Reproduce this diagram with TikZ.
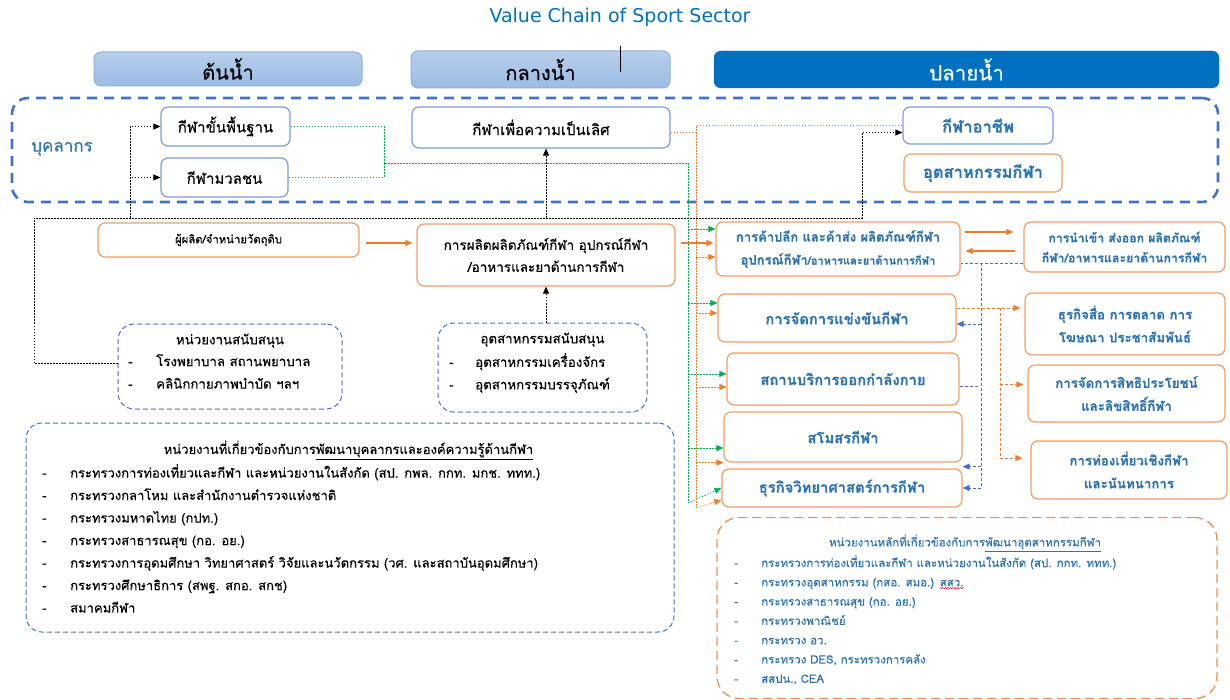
\documentclass[tikz,border=0pt]{standalone}
\usepackage{fontspec}
\usepackage{tikz}
\usetikzlibrary{arrows.meta}
\usetikzlibrary{positioning}
\usetikzlibrary{decorations.pathmorphing}
\setmainfont[Script=Thai, FakeBold=0.35]{Loma}
\newfontfamily\titlefont{DejaVu Sans}
\definecolor{titleblue}{HTML}{0070C0}
\definecolor{frameblue}{HTML}{4472C4}
\definecolor{rimblue}{HTML}{7D9CD9}
\definecolor{txtblue}{HTML}{2E74B5}
\definecolor{headtop}{HTML}{B8CEEC}
\definecolor{headbot}{HTML}{9BBCE4}
\definecolor{headrim}{HTML}{8EB0E0}
\definecolor{orng}{HTML}{ED7D31}
\definecolor{grn}{HTML}{00B050}
% red spell-check wave under a word
\newcommand{\spellwave}[1]{\tikz[baseline=(w.base)]{\node[inner sep=0pt] (w) {#1};
  \draw[red, line width=0.5pt, decorate, decoration={snake, amplitude=0.6pt, segment length=2.5pt}]
  ([yshift=-1.5pt]w.south west) -- ([yshift=-1.5pt]w.south east);}}
\tikzset{
  base/.style={draw, rounded corners=7pt, align=center, inner sep=2pt, font={\fontsize{15}{22}\selectfont}},
  tier_light/.style={base, draw=headrim, line width=1pt, top color=headtop, bottom color=headbot, font={\fontsize{20}{22}\selectfont}},
  tier_dark/.style={base, draw=titleblue, fill=titleblue, text=white, font={\fontsize{20.5}{22}\selectfont}},
  ath/.style={base, draw=rimblue, line width=1.2pt},
  ath_pro/.style={ath, text=txtblue, font={\fontsize{16.5}{20}\selectfont\bfseries}},
  biz/.style={base, draw=orng!75, line width=1.2pt},
  biz_blue/.style={biz, text=txtblue, font={\fontsize{14.8}{22}\selectfont\bfseries}},
  biz_pair/.style={biz_blue, font={\fontsize{13.3}{23}\selectfont\bfseries}},
  % dashed group frames
  grp_staff/.style={draw=frameblue, dash pattern=on 10pt off 7pt, line width=2.6pt, rounded corners=16pt},
  grp_blue/.style={draw=frameblue, dash pattern=on 5pt off 3pt, line width=1pt, rounded corners=16pt},
  grp_orange/.style={draw=orng!85, dash pattern=on 9pt off 5pt, line width=1.3pt, rounded corners=22pt},
  notes/.style={align=left, inner sep=0pt},
  % ----------------------------------------------------------------------------
  % Connector line styles for different parts of the diagram
  link_dark/.style={draw, black, dash pattern=on 1.5pt off 1.5pt, line width=0.7pt},
  link_green/.style={draw, grn, dash pattern=on 1.5pt off 1.5pt, line width=0.7pt},
  link_orange/.style={draw, orng, dash pattern=on 1.5pt off 1.5pt, line width=0.7pt},
  link_blue/.style={draw, frameblue, dash pattern=on 3pt off 2pt, line width=0.8pt},
  link_media/.style={draw, orng, dash pattern=on 3pt off 2pt, line width=0.8pt},
  link_solid/.style={draw, orng, line width=1.2pt}
}

\begin{document}
\begin{tikzpicture}[%
    x=1pt, y=-1pt,                        % pixel grid, y runs down
    >={Triangle[length=7pt, width=6pt]},
    ]
\useasboundingbox (0,0) rectangle (1230,700);

% -------------------------------------------------
% Title and the three stages
\node [text=titleblue, font={\titlefont\fontsize{19}{22}\selectfont}] (title) at (620,17) {Value Chain of Sport Sector};
\node [tier_light, minimum width=268pt, minimum height=34pt] (head_up) at (228,69) {ต้นน้ำ};
\node [tier_light, minimum width=259pt, minimum height=37pt] (head_mid) at (540.5,69.5) {กลางน้ำ};
\node [tier_dark, minimum width=505pt, minimum height=37pt] (head_down) at (966.5,69.5) {ปลายน้ำ};
\draw [line width=0.6pt] (620,46) -- (620,72);

% -------------------------------------------------
% Personnel band
\node [grp_staff, minimum width=1206pt, minimum height=104pt] (staff) at (615,150) {};
\node [text=txtblue, font={\fontsize{17}{18}\selectfont}] (staff_label) at (62,149) {บุคลากร};
\node [ath, minimum width=129pt, minimum height=39pt] (basic) at (225.5,126.5) {กีฬาขั้นพื้นฐาน};
\node [ath, minimum width=127pt, minimum height=39pt] (mass) at (224.5,177.5) {กีฬามวลชน};
\node [ath, minimum width=258pt, minimum height=41pt] (elite) at (541,127.5) {กีฬาเพื่อความเป็นเลิศ};
\node [ath_pro, minimum width=150pt, minimum height=37pt] (pro) at (978,125.5) {กีฬาอาชีพ};
\node [ath_pro, draw=orng!75, minimum width=158pt, minimum height=38pt] (industry) at (983,173) {อุตสาหกรรมกีฬา};

% -------------------------------------------------
% Production chain
\node [biz, font={\fontsize{11.3}{20}\selectfont}, minimum width=261pt, minimum height=34pt] (supplier) at (228.5,240) {ผู้ผลิต/จำหน่ายวัตถุดิบ};
\node [biz, font={\fontsize{13.5}{22}\selectfont}, minimum width=258pt, minimum height=62pt] (produce) at (546,255) {%
    การผลิตผลิตภัณฑ์กีฬา อุปกรณ์กีฬา\\/อาหารและยาด้านการกีฬา};
\node [biz_blue, font={\fontsize{13}{23}\selectfont\bfseries}, minimum width=244pt, minimum height=54pt] (retail) at (838,249) {%
    การค้าปลีก และค้าส่ง ผลิตภัณฑ์กีฬา\\อุปกรณ์กีฬา{\fontsize{11}{23}\selectfont/อาหารและยาด้านการกีฬา}};
\node [biz_blue, font={\fontsize{12.3}{20}\selectfont\bfseries}, minimum width=201pt, minimum height=50pt] (trade) at (1124.5,247) {%
    การนำเข้า ส่งออก ผลิตภัณฑ์\\กีฬา/อาหารและยาด้านการกีฬา};

% -------------------------------------------------
% Downstream services
\node [biz_blue, minimum width=238pt, minimum height=48pt] (compete) at (837,318) {การจัดการแข่งขันกีฬา};
\node [biz_blue, minimum width=232pt, minimum height=52pt] (fitness) at (843,379) {สถานบริการออกกำลังกาย};
\node [biz_blue, minimum width=238pt, minimum height=50pt] (club) at (843,437) {สโมสรกีฬา};
\node [biz_blue, minimum width=240pt, minimum height=38pt] (science) at (842,488) {ธุรกิจวิทยาศาสตร์การกีฬา};
\node [biz_pair, minimum width=200pt, minimum height=62pt] (media) at (1125,324) {ธุรกิจสื่อ การตลาด การ\\โฆษณา ประชาสัมพันธ์};
\node [biz_pair, minimum width=197pt, minimum height=57pt] (rights) at (1126.5,393.5) {การจัดการสิทธิประโยชน์\\และลิขสิทธิ์กีฬา};
\node [biz_pair, minimum width=196pt, minimum height=58pt] (tour) at (1129,470) {การท่องเที่ยวเชิงกีฬา\\และนันทนาการ};

% -------------------------------------------------
% Supporting groups
\node [grp_blue, minimum width=224pt, minimum height=85pt] (support_org) at (230,366.5) {};
\node [notes, font={\fontsize{13.3}{22.5}\selectfont}, below=10pt of support_org.north] (support_org_t) {หน่วยงานสนับสนุน};
\node [notes, font={\fontsize{13.3}{22.5}\selectfont}, anchor=north west] (support_org_l) at (128,354) {%
    \makebox[28pt][l]{-}โรงพยาบาล สถานพยาบาล\\
    \makebox[28pt][l]{-}คลินิกกายภาพบำบัด ฯลฯ};
\node [grp_blue, minimum width=209pt, minimum height=89pt] (support_ind) at (542.5,367.5) {};
\node [notes, font={\fontsize{13.3}{22.5}\selectfont}, below=10pt of support_ind.north] (support_ind_t) {อุตสาหกรรมสนับสนุน};
\node [notes, font={\fontsize{13.3}{22.5}\selectfont}, anchor=north west] (support_ind_l) at (449,353) {%
    \makebox[26pt][l]{-}อุตสาหกรรมเครื่องจักร\\
    \makebox[26pt][l]{-}อุตสาหกรรมบรรจุภัณฑ์};

% notes
\node [grp_blue, minimum width=648pt, minimum height=209pt] (dev_staff) at (350,527.5) {};
\node [notes, font={\fontsize{13}{22.5}\selectfont}] (dev_staff_t) at (348.5,450) {%
    หน่วยงานที่เกี่ยวข้องกับการ\underline{พัฒนาบุคลากรและองค์ความรู้ด้านกีฬา}};
\node [notes, font={\fontsize{13}{22.5}\selectfont}, anchor=north west] (dev_staff_l) at (42,464) {%
    \makebox[28pt][l]{-}กระทรวงการท่องเที่ยวและกีฬา และหน่วยงานในสังกัด  (สป. กพล. กกท. มกช. ททท.)\\
    \makebox[28pt][l]{-}กระทรวงกลาโหม และสำนักงานตำรวจแห่งชาติ\\
    \makebox[28pt][l]{-}กระทรวงมหาดไทย (กปท.)\\
    \makebox[28pt][l]{-}กระทรวงสาธารณสุข (กอ. อย.)\\
    \makebox[28pt][l]{-}กระทรวงการอุดมศึกษา วิทยาศาสตร์ วิจัยและนวัตกรรม (วศ. และสถาบันอุดมศึกษา)\\
    \makebox[28pt][l]{-}กระทรวงศึกษาธิการ (สพฐ. สกอ. สกช)\\
    \makebox[28pt][l]{-}สมาคมกีฬา};
\node [grp_orange, minimum width=500pt, minimum height=181pt] (dev_ind) at (967,608) {};
\node [notes, text=txtblue, font={\fontsize{11.5}{19.3}\selectfont}] (dev_ind_t) at (965,543) {%
    หน่วยงานหลักที่เกี่ยวข้องกับการ\underline{พัฒนาอุตสาหกรรมกีฬา}};
\node [notes, text=txtblue, font={\fontsize{11.5}{19.3}\selectfont}, anchor=north west] (dev_ind_l) at (734,555) {%
    \makebox[27pt][l]{-}กระทรวงการท่องเที่ยวและกีฬา และหน่วยงานในสังกัด  (สป. กกท. ททท.)\\
    \makebox[27pt][l]{-}กระทรวงอุตสาหกรรม (กสอ. สมอ.) \spellwave{สสว.}\\
    \makebox[27pt][l]{-}กระทรวงสาธารณสุข (กอ. อย.)\\
    \makebox[27pt][l]{-}กระทรวงพาณิชย์\\
    \makebox[27pt][l]{-}กระทรวง อว.\\
    \makebox[27pt][l]{-}กระทรวง DES, กระทรวงการคลัง\\
    \makebox[27pt][l]{-}สสปน., CEA};

% -------------------------------------------------
% Black links from the support units
\coordinate (bus_w) at (34,218);
\coordinate (bus_e) at (862,218);
\coordinate (bus_base) at (130,218);
\coordinate (bus_elite) at (546,218);
\draw [link_dark, ->] ([yshift=3pt]support_org.west) -| (bus_w) -- (bus_e) |- ([yshift=-7pt]pro.west);
\draw [link_dark, ->] (bus_base) |- (basic.west);
\draw [link_dark, ->] (bus_base) |- (mass.west);
\draw [link_dark, ->] (bus_elite) -- (bus_elite |- elite.south);
\draw [link_dark, ->] (support_ind.north -| bus_elite) -- (produce.south -| bus_elite);

% Green links from basic and mass sport
\coordinate (g_mid) at (384,163);
\coordinate (g_top) at (688,163);
\coordinate (g_bot) at (688,503);
\draw [link_green] (basic.east) -| (g_mid);
\draw [link_green] (mass.east) -| (g_mid) -- (g_top) -- (g_bot);
\draw [link_green, ->] ([yshift=20pt]retail.west -| g_top) -- ([yshift=20pt]retail.west);
\draw [link_green, ->] ([yshift=15pt]compete.west -| g_top) -- ([yshift=15pt]compete.west);
\draw [link_green, ->] ([yshift=5pt]fitness.west -| g_top) -- ([yshift=5pt]fitness.west);
\draw [link_green, ->] ([yshift=-11pt]club.west -| g_top) -- ([yshift=-11pt]club.west);
\draw [link_green, ->] (g_bot) -- (science.west);

% Orange links from elite and pro sport
\coordinate (o_top) at (696,125);
\coordinate (o_bot) at (696,508);
\draw [link_orange] ([yshift=-5pt]elite.east) -- ([yshift=-5pt]elite.east -| o_top);
\draw [link_orange] (pro.west) -| (o_bot);
\draw [link_orange, ->] ([yshift=-8pt]retail.west -| o_top) -- ([yshift=-8pt]retail.west);
\draw [link_orange, ->] ([yshift=5pt]compete.west -| o_top) -- ([yshift=5pt]compete.west);
\draw [link_orange, ->] ([yshift=-8pt]fitness.west -| o_top) -- ([yshift=-8pt]fitness.west);
\draw [link_orange, ->] (club.south west -| o_top) -- (club.south west);
\draw [link_orange, ->] (o_bot) -- ([yshift=-12pt]science.west);

% Solid flow of goods
\draw [link_solid, ->, shorten <=6pt, shorten >=4pt] ([yshift=-3pt]supplier.east) -- ([yshift=-3pt]supplier.east -| produce.west);
\draw [link_solid, ->, shorten <=5pt, shorten >=2pt] ([yshift=12pt]produce.east) -- ([yshift=12pt]produce.east -| retail.west);
\draw [link_solid, ->, shorten <=4pt, shorten >=10pt] ([yshift=17pt]retail.east) -- ([yshift=17pt]retail.east -| trade.west);
\draw [link_solid, ->, shorten <=8pt, shorten >=5pt] ([yshift=-2pt]retail.east -| trade.west) -- ([yshift=-2pt]retail.east);

% Blue links from import/export
\coordinate (b_top) at (981,263);
\coordinate (b_bot) at (981,488);
\draw [link_blue] ([yshift=-16pt]trade.west) -- ([yshift=-16pt]trade.west -| retail.east);
\draw [link_blue] (b_top) -- (b_bot);
\draw [link_blue, ->] (b_bot) -- (science.east);
\draw [link_blue, ->] ([yshift=-6pt]compete.east -| b_top) -- ([yshift=-6pt]compete.east);
\draw [link_blue, ->] ([yshift=-4pt]club.south east -| b_top) -- ([yshift=-4pt]club.south east);
\draw [link_blue] ([yshift=-7pt]fitness.east) -- ++(18,0);

% Orange dashed links from competitions
\coordinate (m_fork) at (1000,308);
\draw [link_media, ->, shorten >=4pt] ([yshift=10pt]compete.east) -- ([yshift=10pt]compete.east -| media.west);
\draw [link_media, ->, shorten >=4pt] ([yshift=9pt]rights.west -| m_fork) -- ([yshift=9pt]rights.west);
\draw [link_media, ->, shorten >=8pt] (m_fork) |- ([yshift=12pt]tour.west);

\end{tikzpicture}
\end{document}
